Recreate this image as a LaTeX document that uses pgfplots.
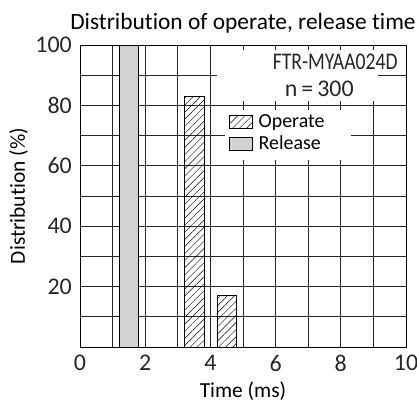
\documentclass[border=0pt]{standalone}
\usepackage{fontspec}
\setmainfont[Ligatures=NoCommon]{Carlito}
\newfontfamily\condfont[FakeStretch=0.82,Ligatures=NoCommon]{Carlito}
\usepackage{pgfplots}
\pgfplotsset{compat=1.18}
\usetikzlibrary{patterns.meta}
\definecolor{relgray}{RGB}{208,210,212}

\begin{document}
\begin{tikzpicture}
\begin{axis}[
  scale only axis,
  width=326bp, height=302bp,
  xmin=0, xmax=10, ymin=0, ymax=100,
  xtick={0,2,...,10}, minor xtick={1,3,...,9},
  ytick={20,40,...,100}, minor ytick={10,30,...,90},
  grid=both,
  major grid style={black!85, line width=0.7bp},
  minor grid style={black!85, line width=0.7bp},
  axis line style={black, line width=0.8bp},
  major tick length=0pt, minor tick length=0pt,
  /pgf/number format/assume math mode=true,
  tick label style={font=\fontsize{24}{24}\selectfont, text=black!85},
  yticklabel style={anchor=east, inner sep=0pt, xshift=-8bp},
  xticklabel style={anchor=north, inner sep=0pt, yshift=-8bp},
  title={Distribution of operate, release time},
  every axis title/.style={at={(axis description cs:0.5,1.05)}, anchor=base,
    inner sep=0pt, font=\fontsize{23.5}{23.5}\selectfont},
  xlabel={Time (ms)},
  xlabel style={at={(axis description cs:0.5,-0.166)}, anchor=base, inner sep=0pt,
    font=\fontsize{21.5}{21.5}\selectfont},
  ylabel={Distribution (\%)},
  ylabel style={at={(axis description cs:-0.169,0.5)}, anchor=base, inner sep=0pt,
    font=\fontsize{21.5}{21.5}\selectfont},
  legend image code/.code={\draw[#1] (0bp,-6.5bp) rectangle (23bp,6.5bp);},
  legend style={at={(axis cs:4.55,77.6)}, anchor=north west, draw=none, fill=none,
    inner sep=0pt, row sep=4bp, font=\fontsize{20}{20}\selectfont,
    nodes={inner sep=1.5bp}},
  legend cell align=left,
  legend entries={\hspace{5bp}Operate, \hspace{5bp}Release},
]
% operate
\addplot[ybar, bar width=0.6, bar shift=0pt, draw=black, line width=0.6bp,
  pattern={Lines[angle=45,distance=5bp,line width=0.45bp]}]
  coordinates {(3.5,83) (4.5,17)};
% release
\addplot[ybar, bar width=0.6, bar shift=0pt, draw=black, line width=0.6bp,
  fill=relgray]
  coordinates {(1.5,100)};

\fill[white] (axis cs:4.45,62) rectangle (axis cs:8.3,78.5);
\fill[white] (axis cs:4.2,81.5) rectangle (axis cs:9.15,98.3);
\node[font=\condfont\fontsize{24}{24}\selectfont, text=black!85, inner sep=0pt]
  at (axis cs:7.83,94.4) {FTR-MYAA024D};
\node[font=\fontsize{24}{24}\selectfont, text=black!85, inner sep=0pt]
  at (axis cs:7.34,85.4) {n\,=\,300};
\end{axis}
\pgfresetboundingbox
\path[use as bounding box] (-80bp,-56bp) rectangle (337bp,347bp);
\end{tikzpicture}
\end{document}
